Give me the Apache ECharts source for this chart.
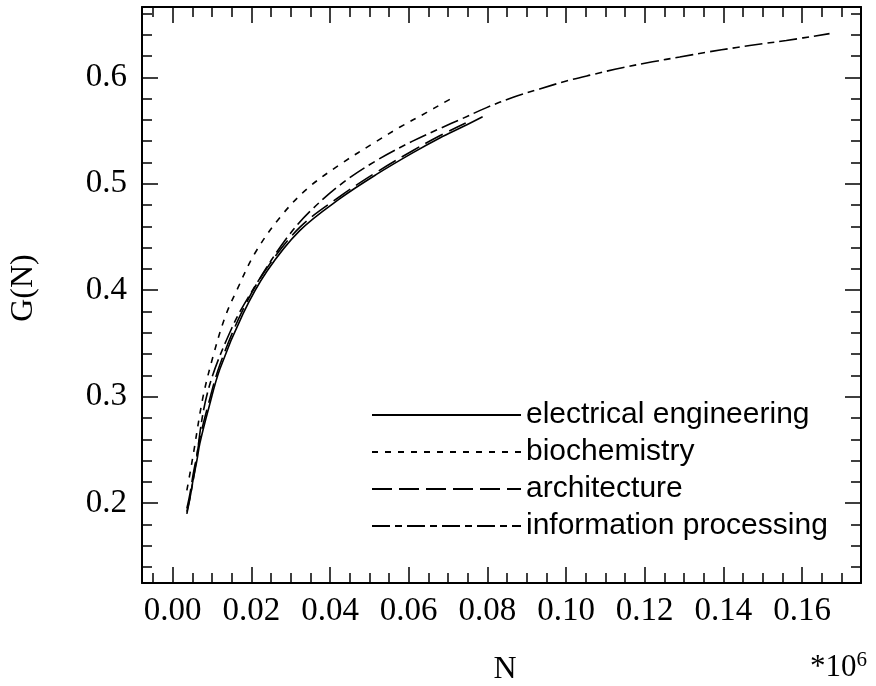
<!DOCTYPE html>
<html>
<head>
<meta charset="utf-8">
<script src="https://cdn.jsdelivr.net/npm/echarts@6/dist/echarts.min.js"></script>
<style>html,body{margin:0;padding:0;background:#fff;}#c{width:876px;height:686px;}</style>
</head>
<body>
<div id="c"></div>
<script>
// ---- data ----
const eeX   = [0.0036, 0.0044, 0.0052, 0.0062, 0.0069, 0.0090, 0.0120, 0.0179, 0.0240, 0.0323, 0.0425, 0.0519, 0.0610, 0.0679, 0.0740, 0.0788];
const eeY   = [0.192, 0.205, 0.222, 0.241, 0.256, 0.287, 0.326, 0.378, 0.418, 0.456, 0.486, 0.509, 0.529, 0.543, 0.554, 0.563];
const bioX  = [0.0036, 0.0044, 0.0052, 0.0077, 0.0102, 0.0133, 0.0163, 0.0209, 0.0273, 0.0341, 0.0425, 0.0519, 0.0577, 0.0646, 0.0684, 0.0713];
const bioY  = [0.212, 0.228, 0.245, 0.2995, 0.337, 0.3746, 0.400, 0.4347, 0.4685, 0.495, 0.518, 0.540, 0.553, 0.567, 0.575, 0.581];
const archX = [0.0036, 0.0044, 0.0052, 0.0062, 0.0069, 0.0090, 0.0120, 0.0179, 0.0240, 0.0323, 0.0425, 0.0519, 0.0610, 0.0679, 0.0745];
const archY = [0.195, 0.209, 0.227, 0.246, 0.261, 0.292, 0.330, 0.382, 0.421, 0.459, 0.488, 0.511, 0.531, 0.545, 0.557];
const infoX = [0.0036, 0.0044, 0.0055, 0.0088, 0.0151, 0.0214, 0.0290, 0.0349, 0.0433, 0.0519, 0.0610, 0.0680, 0.0735, 0.0798, 0.0864, 0.0933, 0.1001, 0.1067, 0.1143, 0.1220, 0.1289, 0.1357, 0.1434, 0.1500, 0.1560, 0.1670];
const infoY = [0.190, 0.205, 0.228, 0.303, 0.365, 0.4066, 0.449, 0.474, 0.501, 0.522, 0.540, 0.552, 0.561, 0.5715, 0.581, 0.589, 0.5965, 0.6025, 0.609, 0.6145, 0.619, 0.6235, 0.628, 0.6315, 0.6345, 0.641];
const seriesNames = ['electrical engineering', 'biochemistry', 'architecture', 'information processing'];
const xMajorTicks = [0, 0.02, 0.04, 0.06, 0.08, 0.10, 0.12, 0.14, 0.16];
const yMajorTicks = [0.2, 0.3, 0.4, 0.5, 0.6];

// minor tick positions (every 0.005 on x, every 0.02 on y)
const xMinorTicks = [];
for (let i = -1; i <= 34; i++) { if (i % 4 !== 0) xMinorTicks.push(Math.round(i * 5) / 1000); }
const yMinorTicks = [];
for (let i = 7; i <= 33; i++) { if (i % 5 !== 0) yMinorTicks.push(Math.round(i * 2) / 100); }

const pairs = (xs, ys) => xs.map((x, i) => [x, ys[i]]);

const XMIN = -0.0078, XMAX = 0.175, YMIN = 0.125, YMAX = 0.666;
const serif = 'Liberation Serif';

function xAx(pos, ticks, len, labels, line) {
  return {
    type: 'value', position: pos, min: XMIN, max: XMAX, splitLine: {show: false},
    axisLine: {show: line, onZero: false, lineStyle: {color: '#000', width: 2}},
    axisTick: {show: true, inside: true, length: len, customValues: ticks, lineStyle: {color: '#000', width: 1.5}},
    axisLabel: {show: labels, customValues: ticks, margin: 12, color: '#000', fontFamily: serif, fontSize: 33,
      formatter: v => v.toFixed(2)}
  };
}
function yAx(pos, ticks, len, labels, line) {
  return {
    type: 'value', position: pos, min: YMIN, max: YMAX, splitLine: {show: false},
    axisLine: {show: line, onZero: false, lineStyle: {color: '#000', width: 2}},
    axisTick: {show: true, inside: true, length: len, customValues: ticks, lineStyle: {color: '#000', width: 1.5}},
    axisLabel: {show: labels, customValues: ticks, margin: 15, color: '#000', fontFamily: serif, fontSize: 33,
      formatter: v => v.toFixed(1)}
  };
}

const lineBase = {type: 'line', showSymbol: false, symbol: 'none', symbolSize: 0, smooth: 0.35,
  xAxisIndex: 0, yAxisIndex: 0, animation: false, itemStyle: {color: '#000', opacity: 0}};

const chart = echarts.init(document.getElementById('c'));
chart.setOption({
  animation: false,
  backgroundColor: '#fff',
  grid: {left: 142, top: 7, width: 719, height: 576, containLabel: false},
  xAxis: [
    xAx('bottom', xMajorTicks, 16, true, true),
    xAx('bottom', xMinorTicks, 10, false, false),
    xAx('top', xMajorTicks, 16, false, true),
    xAx('top', xMinorTicks, 10, false, false)
  ],
  yAxis: [
    yAx('left', yMajorTicks, 16, true, true),
    yAx('left', yMinorTicks, 10, false, false),
    yAx('right', yMajorTicks, 16, false, true),
    yAx('right', yMinorTicks, 10, false, false)
  ],
  legend: {
    orient: 'vertical', left: 366, top: 395, itemWidth: 149, itemHeight: 30, itemGap: 7,
    selectedMode: false,
    itemStyle: {opacity: 0},
    textStyle: {fontSize: 30, fontFamily: 'Liberation Sans', color: '#000'},
    data: seriesNames
  },
  series: [
    Object.assign({}, lineBase, {name: seriesNames[0], data: pairs(eeX, eeY), lineStyle: {color: '#000', width: 1.6, type: 'solid'}}),
    Object.assign({}, lineBase, {name: seriesNames[1], data: pairs(bioX, bioY), lineStyle: {color: '#000', width: 1.6, type: [6, 7]}}),
    Object.assign({}, lineBase, {name: seriesNames[2], data: pairs(archX, archY), lineStyle: {color: '#000', width: 1.6, type: [20, 7]}}),
    Object.assign({}, lineBase, {name: seriesNames[3], data: pairs(infoX, infoY), lineStyle: {color: '#000', width: 1.6, type: [18, 5, 7, 5]}})
  ],
  graphic: [
    {type: 'text', x: 24, y: 288, rotation: Math.PI / 2,
      style: {text: 'G(N)', font: '32px "Liberation Serif"', fill: '#000', align: 'center', verticalAlign: 'middle'}},
    {type: 'text', x: 505, y: 670,
      style: {text: 'N', font: '32px "Liberation Serif"', fill: '#000', align: 'center', verticalAlign: 'middle'}},
    {type: 'text', x: 810, y: 683,
      style: {text: '{a|*10}{b|6}', fill: '#000', align: 'left', verticalAlign: 'bottom',
        rich: {a: {fontFamily: serif, fontSize: 31, verticalAlign: 'bottom'},
               b: {fontFamily: serif, fontSize: 21, verticalAlign: 'top', padding: [0, 0, 12, 0]}}}}
  ]
});
</script>
</body>
</html>
